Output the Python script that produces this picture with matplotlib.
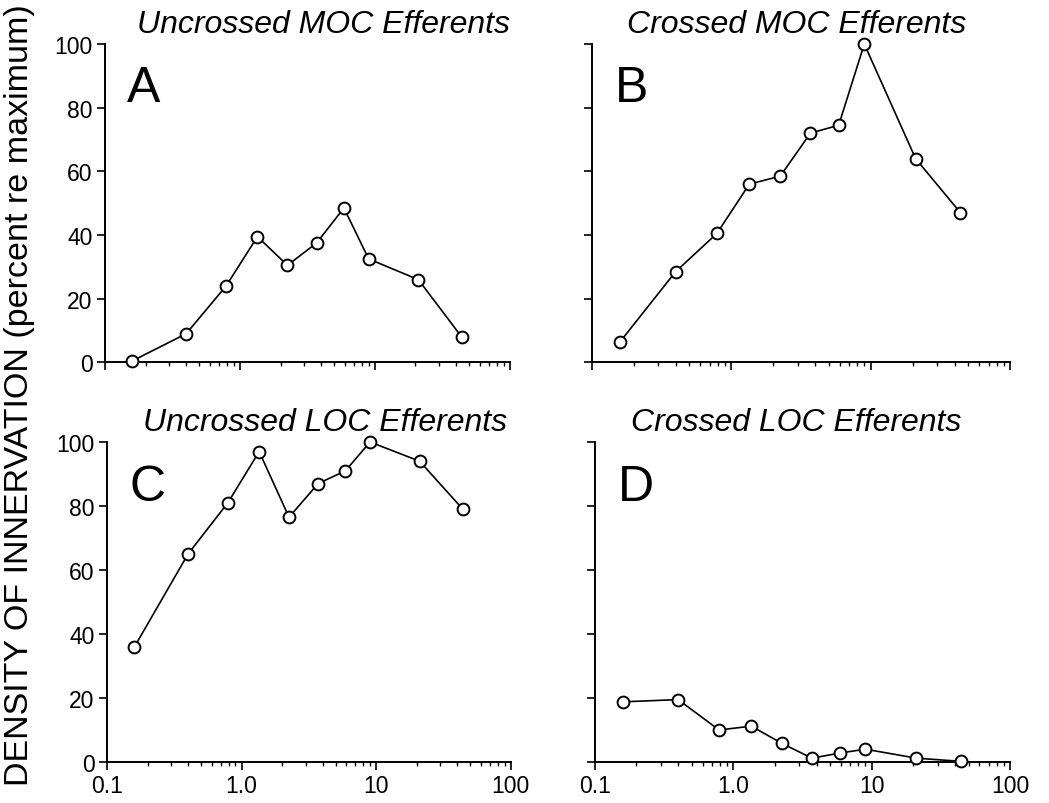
import matplotlib
matplotlib.use('Agg')
import matplotlib.pyplot as plt
from matplotlib.ticker import FixedLocator, FixedFormatter, LogLocator, NullFormatter

plt.rcParams['font.family'] = ['Liberation Sans', 'DejaVu Sans']

# frequency bins (kHz), shared by all panels
freq = [0.16, 0.40, 0.79, 1.35, 2.25, 3.7, 5.9, 9.0, 21, 44]

uncrossed_moc = [0.5, 9, 24, 39.5, 30.5, 37.5, 48.5, 32.5, 26, 8]
crossed_moc = [6.5, 28.5, 40.5, 56, 58.5, 72, 74.5, 100, 64, 47]
uncrossed_loc = [36, 65, 81, 97, 76.5, 87, 91, 100, 94, 79]
crossed_loc = [18.8, 19.5, 10, 11.2, 5.8, 1.2, 2.8, 4, 1.2, 0.2]

titles = ['Uncrossed MOC Efferents', 'Crossed MOC Efferents',
          'Uncrossed LOC Efferents', 'Crossed LOC Efferents']
letters = ['A', 'B', 'C', 'D']
series = [uncrossed_moc, crossed_moc, uncrossed_loc, crossed_loc]

x_ticks = [0.1, 1, 10, 100]
x_tick_labels = ['0.1', '1.0', '10', '100']
y_ticks = [0, 20, 40, 60, 80, 100]

fig = plt.figure(figsize=(10.49, 8.04), dpi=100)

# axes rectangles [left, bottom, width, height] in figure fraction
rects = [[0.100, 0.548, 0.386, 0.396],
         [0.564, 0.548, 0.399, 0.396],
         [0.102, 0.051, 0.385, 0.398],
         [0.567, 0.051, 0.396, 0.398]]
title_x = [0.54, 0.49, 0.54, 0.485]

for i in range(4):
    ax = fig.add_axes(rects[i])
    ax.plot(freq, series[i], color='black', lw=1.2, marker='o', ms=8.5,
            mfc='white', mec='black', mew=1.4, clip_on=False, zorder=3)
    ax.set_xscale('log')
    ax.set_xlim(0.1, 100)
    ax.set_ylim(0, 100)
    ax.spines['top'].set_visible(False)
    ax.spines['right'].set_visible(False)
    ax.spines['left'].set_linewidth(1.4)
    ax.spines['bottom'].set_linewidth(1.4)
    ax.xaxis.set_major_locator(FixedLocator(x_ticks))
    ax.xaxis.set_minor_locator(LogLocator(base=10, subs=range(2, 10)))
    ax.xaxis.set_minor_formatter(NullFormatter())
    ax.yaxis.set_major_locator(FixedLocator(y_ticks))
    ax.tick_params(axis='both', which='major', direction='out', length=6,
                   width=1.2, labelsize=16.5, pad=3)
    ax.tick_params(axis='x', which='minor', direction='out', length=3, width=1)
    if i >= 2:
        ax.xaxis.set_major_formatter(FixedFormatter(x_tick_labels))
    else:
        ax.set_xticklabels([])
    if i % 2 == 1:
        ax.set_yticklabels([])
    ax.text(title_x[i], 1.063, titles[i], transform=ax.transAxes,
            ha='center', va='center', fontsize=23, style='italic')
    ax.text(0.055, 0.82, letters[i], transform=ax.transAxes,
            ha='left', va='baseline', fontsize=36)

fig.text(0.019, 0.508, 'DENSITY OF INNERVATION (percent re maximum)',
         rotation=90, ha='center', va='center', fontsize=24.5)

fig.savefig('out.png', dpi=100)
